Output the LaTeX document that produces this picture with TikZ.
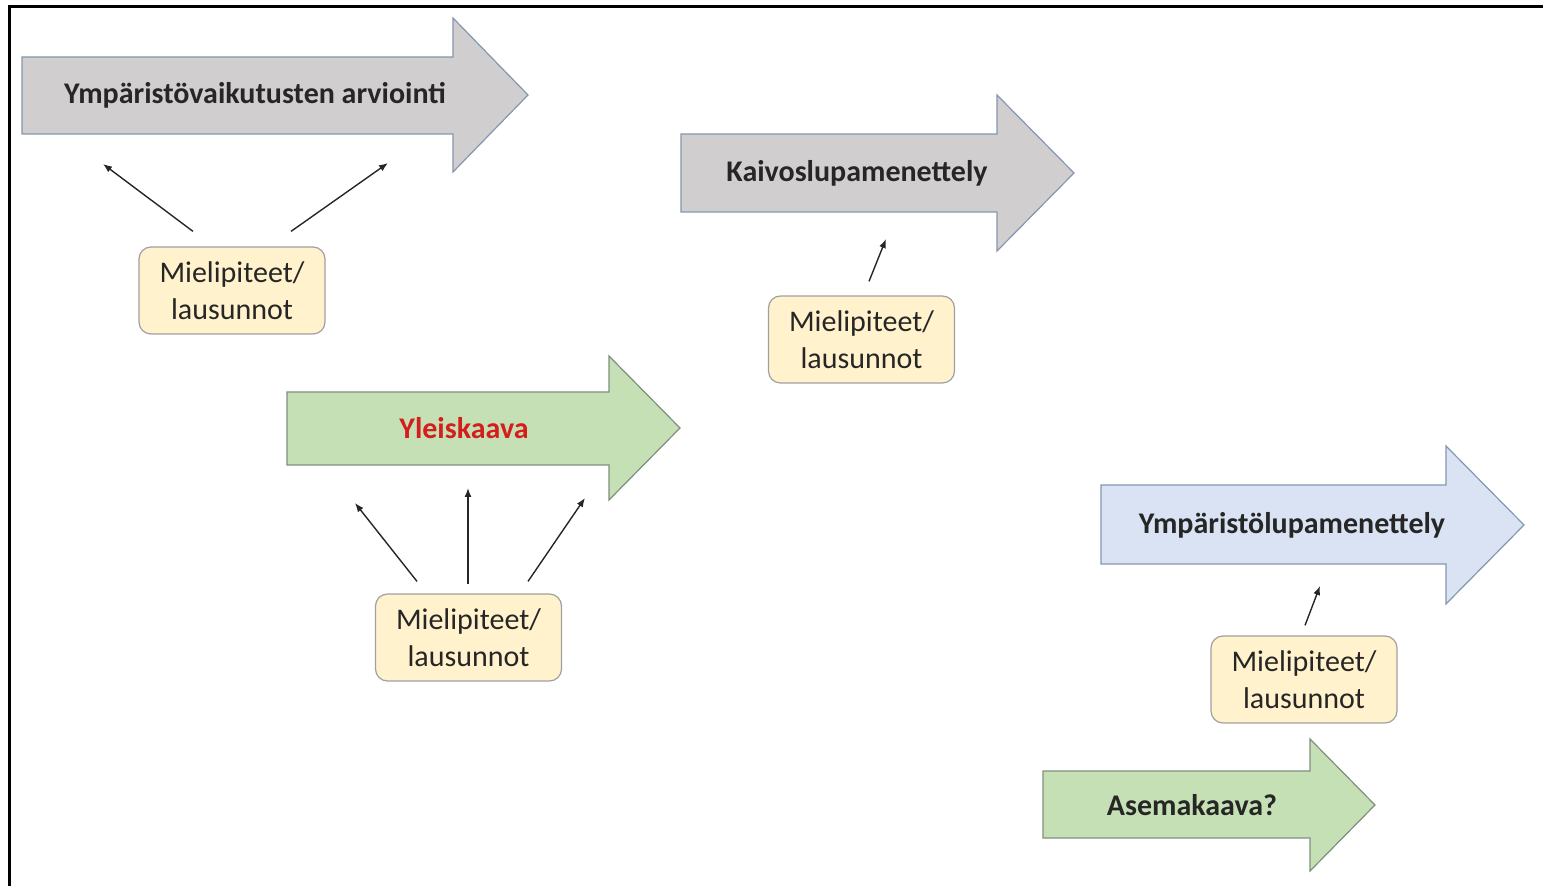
\documentclass[tikz,border=0pt]{standalone}
\usepackage{fontspec}
\setmainfont{Carlito}
\usetikzlibrary{arrows.meta}
\definecolor{grayfill}{HTML}{D0CECE}
\definecolor{grayline}{HTML}{8497B0}
\definecolor{greenfill}{HTML}{C5E0B4}
\definecolor{greenline}{HTML}{7F8F7F}
\definecolor{bluefill}{HTML}{DAE3F3}
\definecolor{blueline}{HTML}{8497B0}
\definecolor{boxfill}{HTML}{FFF2CC}
\definecolor{boxline}{HTML}{A0A0A0}
\definecolor{redtext}{HTML}{D41E1E}
\tikzset{
  grayarrow/.style={fill=grayfill, draw=grayline, line width=0.6pt, line join=miter},
  greenarrow/.style={fill=greenfill, draw=greenline, line width=0.6pt, line join=miter},
  bluearrow/.style={fill=bluefill, draw=blueline, line width=0.6pt, line join=miter},
  hdr/.style={font=\fontsize{15}{18}\selectfont\bfseries, text=black!85, inner sep=0pt},
  opinion/.style={fill=boxfill, draw=boxline, line width=0.6pt, rounded corners=6pt,
    minimum width=93pt, minimum height=43.5pt, align=center, inner sep=0pt,
    font=\fontsize{15}{18.5}\selectfont, text=black!85},
  conn/.style={draw=black!85, line width=0.7pt, -{Latex[length=4.5pt,width=3.5pt]}}
}
\begin{document}
\begin{tikzpicture}[x=0.5pt,y=-0.5pt]
\useasboundingbox (0,0) rectangle (1543,886);
% frame
\draw[line width=1.6pt, black] (9.5,886) -- (9.5,6.5) -- (1543,6.5);

% big arrows
\draw[grayarrow] (22,57) -- (453,57) -- (453,18) -- (528,95) -- (453,172) -- (453,134) -- (22,134) -- cycle;
\node[hdr] (yva) at (255,95.5) {Ympäristövaikutusten arviointi};

\draw[grayarrow] (681,134) -- (997,134) -- (997,95) -- (1074,173) -- (997,251) -- (997,212) -- (681,212) -- cycle;
\node[hdr] (kaivos) at (857,173) {Kaivoslupamenettely};

\draw[greenarrow] (287,392) -- (609,392) -- (609,356) -- (680,428) -- (609,500) -- (609,465) -- (287,465) -- cycle;
\node[hdr, text=redtext] (yleis) at (464,428) {Yleiskaava};

\draw[bluearrow] (1101,485) -- (1446,485) -- (1446,446) -- (1524,525) -- (1446,604) -- (1446,564) -- (1101,564) -- cycle;
\node[hdr] (ymplupa) at (1292,525) {Ympäristölupamenettely};

\draw[greenarrow] (1043,771) -- (1310,771) -- (1310,739) -- (1375,805) -- (1310,871) -- (1310,838) -- (1043,838) -- cycle;
\node[hdr] (asema) at (1192,805) {Asemakaava?};

% opinion boxes
\node[opinion] (m1) at (232,290.5) {Mielipiteet/\\lausunnot};
\node[opinion] (m2) at (861.5,339.5) {Mielipiteet/\\lausunnot};
\node[opinion] (m3) at (468.5,637.5) {Mielipiteet/\\lausunnot};
\node[opinion] (m4) at (1304,679.5) {Mielipiteet/\\lausunnot};

% free ends of connectors
\coordinate (e1a) at (103,164);
\coordinate (e1b) at (388,163);
\coordinate (e2) at (886,239);
\coordinate (e3a) at (355,503);
\coordinate (e3b) at (468,488);
\coordinate (e3c) at (585,498);
\coordinate (e4) at (1320,586);

\draw[conn] ([shift={(-39,-15)}]m1.north) -- (e1a);
\draw[conn] ([shift={(59,-15)}]m1.north) -- (e1b);
\draw[conn] ([shift={(7.5,-14)}]m2.north) -- (e2);
\draw[conn] ([shift={(-51.5,-12)}]m3.north) -- (e3a);
\draw[conn] ([shift={(-0.5,-9)}]m3.north) -- (e3b);
\draw[conn] ([shift={(59.5,-12)}]m3.north) -- (e3c);
\draw[conn] ([shift={(1,-10)}]m4.north) -- (e4);
\end{tikzpicture}
\end{document}
